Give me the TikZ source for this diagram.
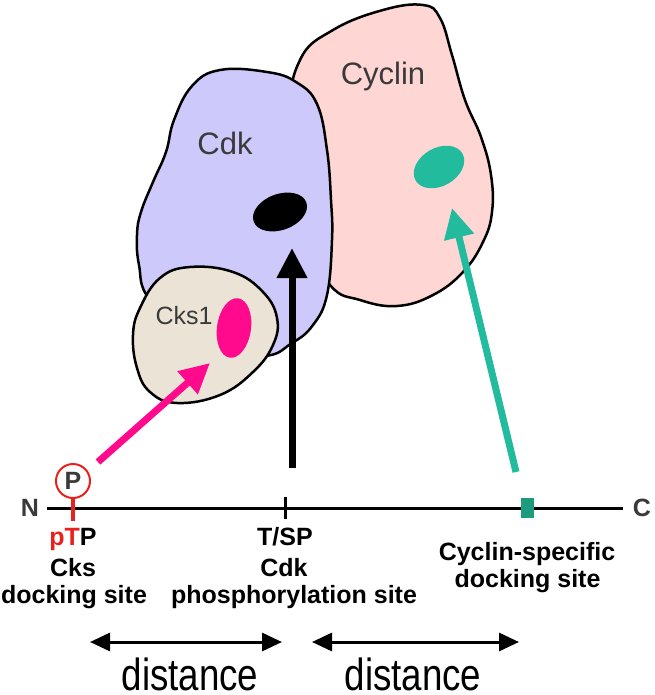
\documentclass[tikz,border=0pt]{standalone}
\usepackage{fontspec}
\setmainfont{Liberation Sans}
\usetikzlibrary{positioning}
\usetikzlibrary{calc}
\usetikzlibrary{arrows.meta}

\definecolor{cdkcol}{HTML}{CEC9FB}
\definecolor{cyccol}{HTML}{FED6D4}
\definecolor{ckscol}{HTML}{EBE3D6}
\definecolor{pinkcol}{HTML}{FF0A8C}
\definecolor{tealcol}{HTML}{22BB9E}
\definecolor{sqcol}{HTML}{1C9C7C}
\definecolor{redcol}{HTML}{E8211E}
\definecolor{labcol}{HTML}{3A3A3A}

\begin{document}
\begin{tikzpicture}[x=1pt,y=-1pt,
    blob/.style={draw=black,line width=2.5pt},
    lbl/.style={font=\fontsize{25}{30}\selectfont\bfseries,inner sep=0pt,anchor=base},
    protlbl/.style={font=\fontsize{31}{36}\selectfont,text=labcol,inner sep=0pt,anchor=base},
    bigarrow/.style={line width=7pt,-{Triangle[length=30pt,width=29pt]}},
    distarrow/.style={line width=3pt,{Triangle[length=20pt,width=18pt]}-{Triangle[length=20pt,width=18pt]}},
    distlbl/.style={font=\fontsize{36}{40}\selectfont,inner sep=0pt,anchor=base}]
    \useasboundingbox (0,0) rectangle (654,695);
    \draw[blob,fill=cyccol] plot[smooth cycle,tension=0.7] coordinates {(300,60) (333,30) (383,10) (423,5) (440,18) (452,55) (465,100) (481,137) (491,175) (492,212) (483,242) (463,272) (433,295) (397,306) (360,300) (330,285) (300,230) (290,120)};
    \draw[blob,fill=cdkcol] plot[smooth cycle,tension=0.7] coordinates {(220,70) (267,72) (296,82) (317,104) (327,150) (331,200) (332,240) (327,295) (313,325) (292,343) (262,356) (200,345) (150,300) (139,265) (137,235) (141,212) (153,182) (166,152) (174,120) (192,86)};
    \draw[blob,fill=ckscol] plot[smooth cycle,tension=0.7] coordinates {(190,267) (233,272) (263,292) (277,318) (273,345) (253,372) (220,395) (177,403) (150,392) (137,368) (133,335) (140,308) (160,278)};
    \fill[black,rotate around={20:(280,212)}] (280,212) ellipse (28 and 18);
    \fill[tealcol,rotate around={30:(439,167)}] (439,167) ellipse (27 and 19);
    \fill[pinkcol,rotate around={-8:(234,328)}] (234,328) ellipse (17 and 30);
    \node[protlbl] (cyclinlbl) at (383,85) {Cyclin};
    \node[protlbl] (cdklbl) at (225,155) {Cdk};
    \node[protlbl,font=\fontsize{25}{30}\selectfont] (ckslbl) at (184,324) {Cks1};

    \node[font=\fontsize{25}{30}\selectfont\bfseries,inner xsep=8pt,inner ysep=0pt,text=labcol] (nterm) at (30,508) {N};
    \node[font=\fontsize{25}{30}\selectfont\bfseries,inner xsep=10pt,inner ysep=0pt,text=labcol] (cterm) at (642,508) {C};
    \draw[line width=3pt] (nterm.east) -- (cterm.west);
    \coordinate (tsp) at (285,508);
    \draw[line width=3pt] ($(tsp)+(0,-11)$) -- ($(tsp)+(0,11)$);
    \node[fill=sqcol,minimum width=13pt,minimum height=20pt,inner sep=0pt] (cycsite) at (527.5,508) {};
    \node[circle,draw=redcol,line width=2pt,minimum size=34pt,inner sep=0pt,font=\fontsize{25}{30}\selectfont\bfseries,text=labcol] (phos) at (73,481) {P};
    \draw[redcol,line width=3.5pt] (phos.south) -- (73,521);

    \node[lbl] (ptp) at (73,545) {\textcolor{redcol}{pT}P};
    \node[lbl] (ckstxt) at (73,576) {Cks};
    \node[lbl] (dock1) at (74,603) {docking site};
    \node[lbl] (tsptxt) at (285,545) {T/SP};
    \node[lbl] (cdktxt) at (284,576) {Cdk};
    \node[lbl] (phostxt) at (294,603) {phosphorylation site};
    \node[lbl] (cycsp) at (527,560) {Cyclin-specific};
    \node[lbl] (dock2) at (527.5,587) {docking site};

    \coordinate (pinktail) at (98,462);
    \coordinate (pinktip) at (210,363);
    \coordinate (blacktail) at (292,468);
    \coordinate (blacktip) at (292,248);
    \coordinate (tealtail) at (516,472);
    \coordinate (tealtip) at (452,208);
    \draw[bigarrow,pinkcol] (pinktail) -- (pinktip);
    \draw[bigarrow,black] (blacktail) -- (blacktip);
    \draw[bigarrow,tealcol] (tealtail) -- (tealtip);

    \coordinate (d1l) at (90,642);
    \coordinate (d1r) at (282,642);
    \coordinate (d2l) at (312,642);
    \coordinate (d2r) at (519,642);
    \draw[distarrow] (d1l) -- (d1r);
    \draw[distarrow] (d2l) -- (d2r);
    \node[distlbl] (dist1) at (190,690) {\scalebox{1.02}[1.25]{distance}};
    \node[distlbl] (dist2) at (413,690) {\scalebox{1.02}[1.25]{distance}};
\end{tikzpicture}
\end{document}
